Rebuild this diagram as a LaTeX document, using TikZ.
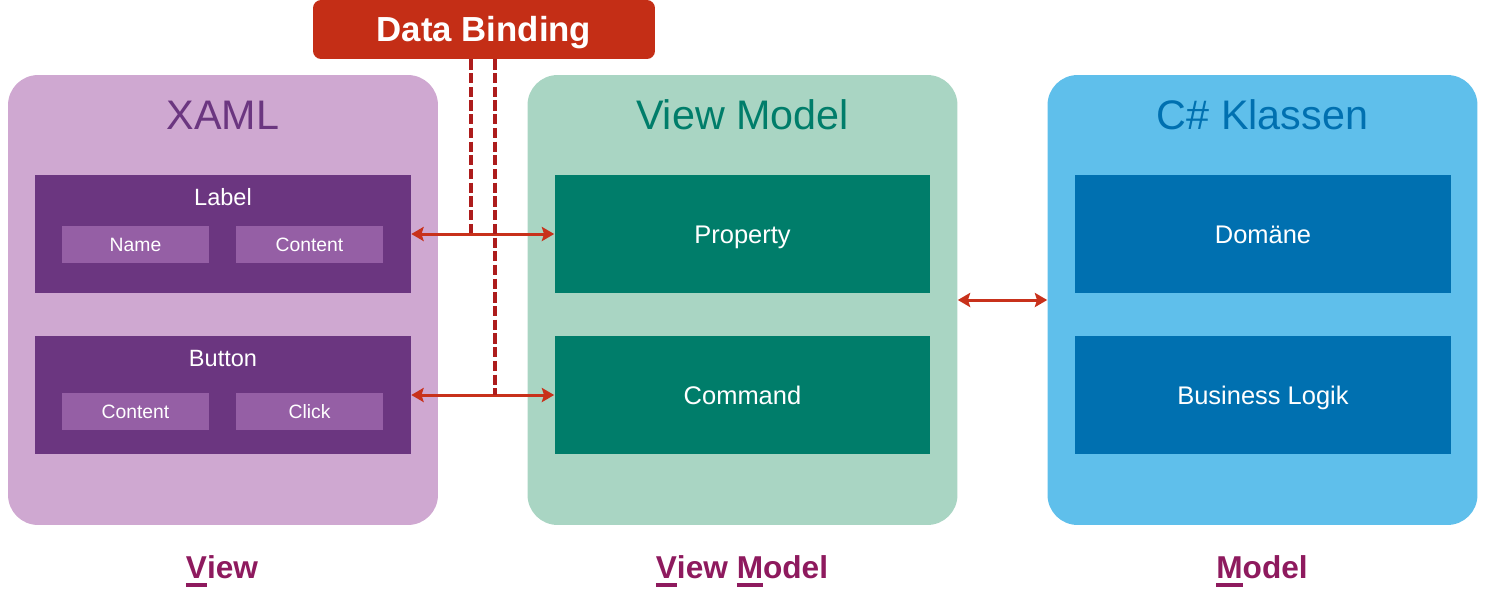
\documentclass[tikz,border=0pt]{standalone}
\usepackage{fontspec}
\setmainfont{Liberation Sans}
\usetikzlibrary{arrows.meta}

\definecolor{xamlbg}{HTML}{CFA8D1}
\definecolor{xamldark}{HTML}{6B3680}
\definecolor{xamlsub}{HTML}{955FA5}
\definecolor{vmbg}{HTML}{A9D5C3}
\definecolor{vmdark}{HTML}{007D6A}
\definecolor{csbg}{HTML}{5FBFEB}
\definecolor{csdark}{HTML}{0070B0}
\definecolor{dbred}{HTML}{C42E16}
\definecolor{dashred}{HTML}{AD1C1C}
\definecolor{arrowred}{HTML}{C8311B}
\definecolor{layername}{HTML}{8E1A5E}

% underline only the first letter(s)
\newcommand\ulfirst[1]{\setbox0\hbox{#1}\rlap{\rule[-5.1pt]{\wd0}{2.2pt}}\box0}

\tikzset{
  panel/.style={rounded corners=0.6cm,minimum width=8.6cm,minimum height=9cm,inner sep=0pt},
  inbox/.style={minimum width=7.52cm,minimum height=2.36cm,inner sep=0pt,text=white,
    text height=10.4pt,text depth=0pt,font=\fontsize{14.5}{16}\selectfont},
  subbox/.style={fill=xamlsub,minimum width=2.94cm,minimum height=0.74cm,inner sep=0pt,text=white,
    text height=7.9pt,text depth=0pt,font=\fontsize{11}{12}\selectfont},
  boxtitle/.style={anchor=base,text=white,font=\fontsize{13.4}{15}\selectfont},
  paneltitle/.style={anchor=base,font=\fontsize{23.5}{26}\selectfont},
  layer/.style={anchor=base,text=layername,font=\bfseries\fontsize{18}{20}\selectfont},
  bindarrow/.style={<->,>={Stealth[length=7pt,width=8pt,inset=1.2pt]},draw=arrowred,line width=1.7pt},
  bindline/.style={draw=dashred,line width=2.3pt,dash pattern=on 5.8pt off 2pt}
}

\begin{document}
\begin{tikzpicture}[x=0.02cm,y=-0.02cm]
\useasboundingbox (0,0) rectangle (1485,596);

% three layers
\node[panel,fill=xamlbg] (xaml) at (223,300) {};
\node[panel,fill=vmbg] (vm) at (742.5,300) {};
\node[panel,fill=csbg] (cs) at (1262.5,300) {};
\node[paneltitle,text=xamldark] (xamlT) at (223,129) {XAML};
\node[paneltitle,text=vmdark] (vmT) at (742.5,129) {View Model};
\node[paneltitle,text=csdark] (csT) at (1262.5,129) {C\# Klassen};

% XAML controls
\node[inbox,fill=xamldark] (lbl) at (223,234) {};
\node[boxtitle] (lblT) at (223,205) {Label};
\node[subbox] (lblName) at (135.5,244.5) {Name};
\node[subbox] (lblContent) at (309.5,244.5) {Content};
\node[inbox,fill=xamldark] (btn) at (223,395) {};
\node[boxtitle] (btnT) at (223,366) {Button};
\node[subbox] (btnContent) at (135.5,411.5) {Content};
\node[subbox] (btnClick) at (309.5,411.5) {Click};

% view model
\node[inbox,fill=vmdark] (prop) at (742.5,234) {Property};
\node[inbox,fill=vmdark] (cmd) at (742.5,395) {Command};

% classes
\node[inbox,fill=csdark] (dom) at (1263,234) {Domäne};
\node[inbox,fill=csdark] (biz) at (1263,395) {Business Logik};

% data binding
\node[fill=dbred,rounded corners=0.16cm,minimum width=6.84cm,minimum height=1.18cm,inner sep=0pt,
  text=white,text height=14.2pt,text depth=0pt,font=\bfseries\fontsize{19.8}{22}\selectfont] (db) at (484,29.5) {Data Binding};
\draw[bindarrow] (lbl.east) -- (prop.west);
\draw[bindarrow] (btn.east) -- (cmd.west);
\draw[bindarrow] (vm.east) -- (cs.west);
\coordinate (d1) at (471,233);
\coordinate (d2) at (495,395);
\draw[bindline] (db.south -| d1) -- (d1);
\draw[bindline] (db.south -| d2) -- (d2);

% layer names
\node[layer] (viewL) at (222,578) {\ulfirst{V}iew};
\node[layer] (vmL) at (742,578) {\ulfirst{V}iew \ulfirst{M}odel};
\node[layer] (modelL) at (1262,578) {\ulfirst{M}odel};
\end{tikzpicture}
\end{document}
